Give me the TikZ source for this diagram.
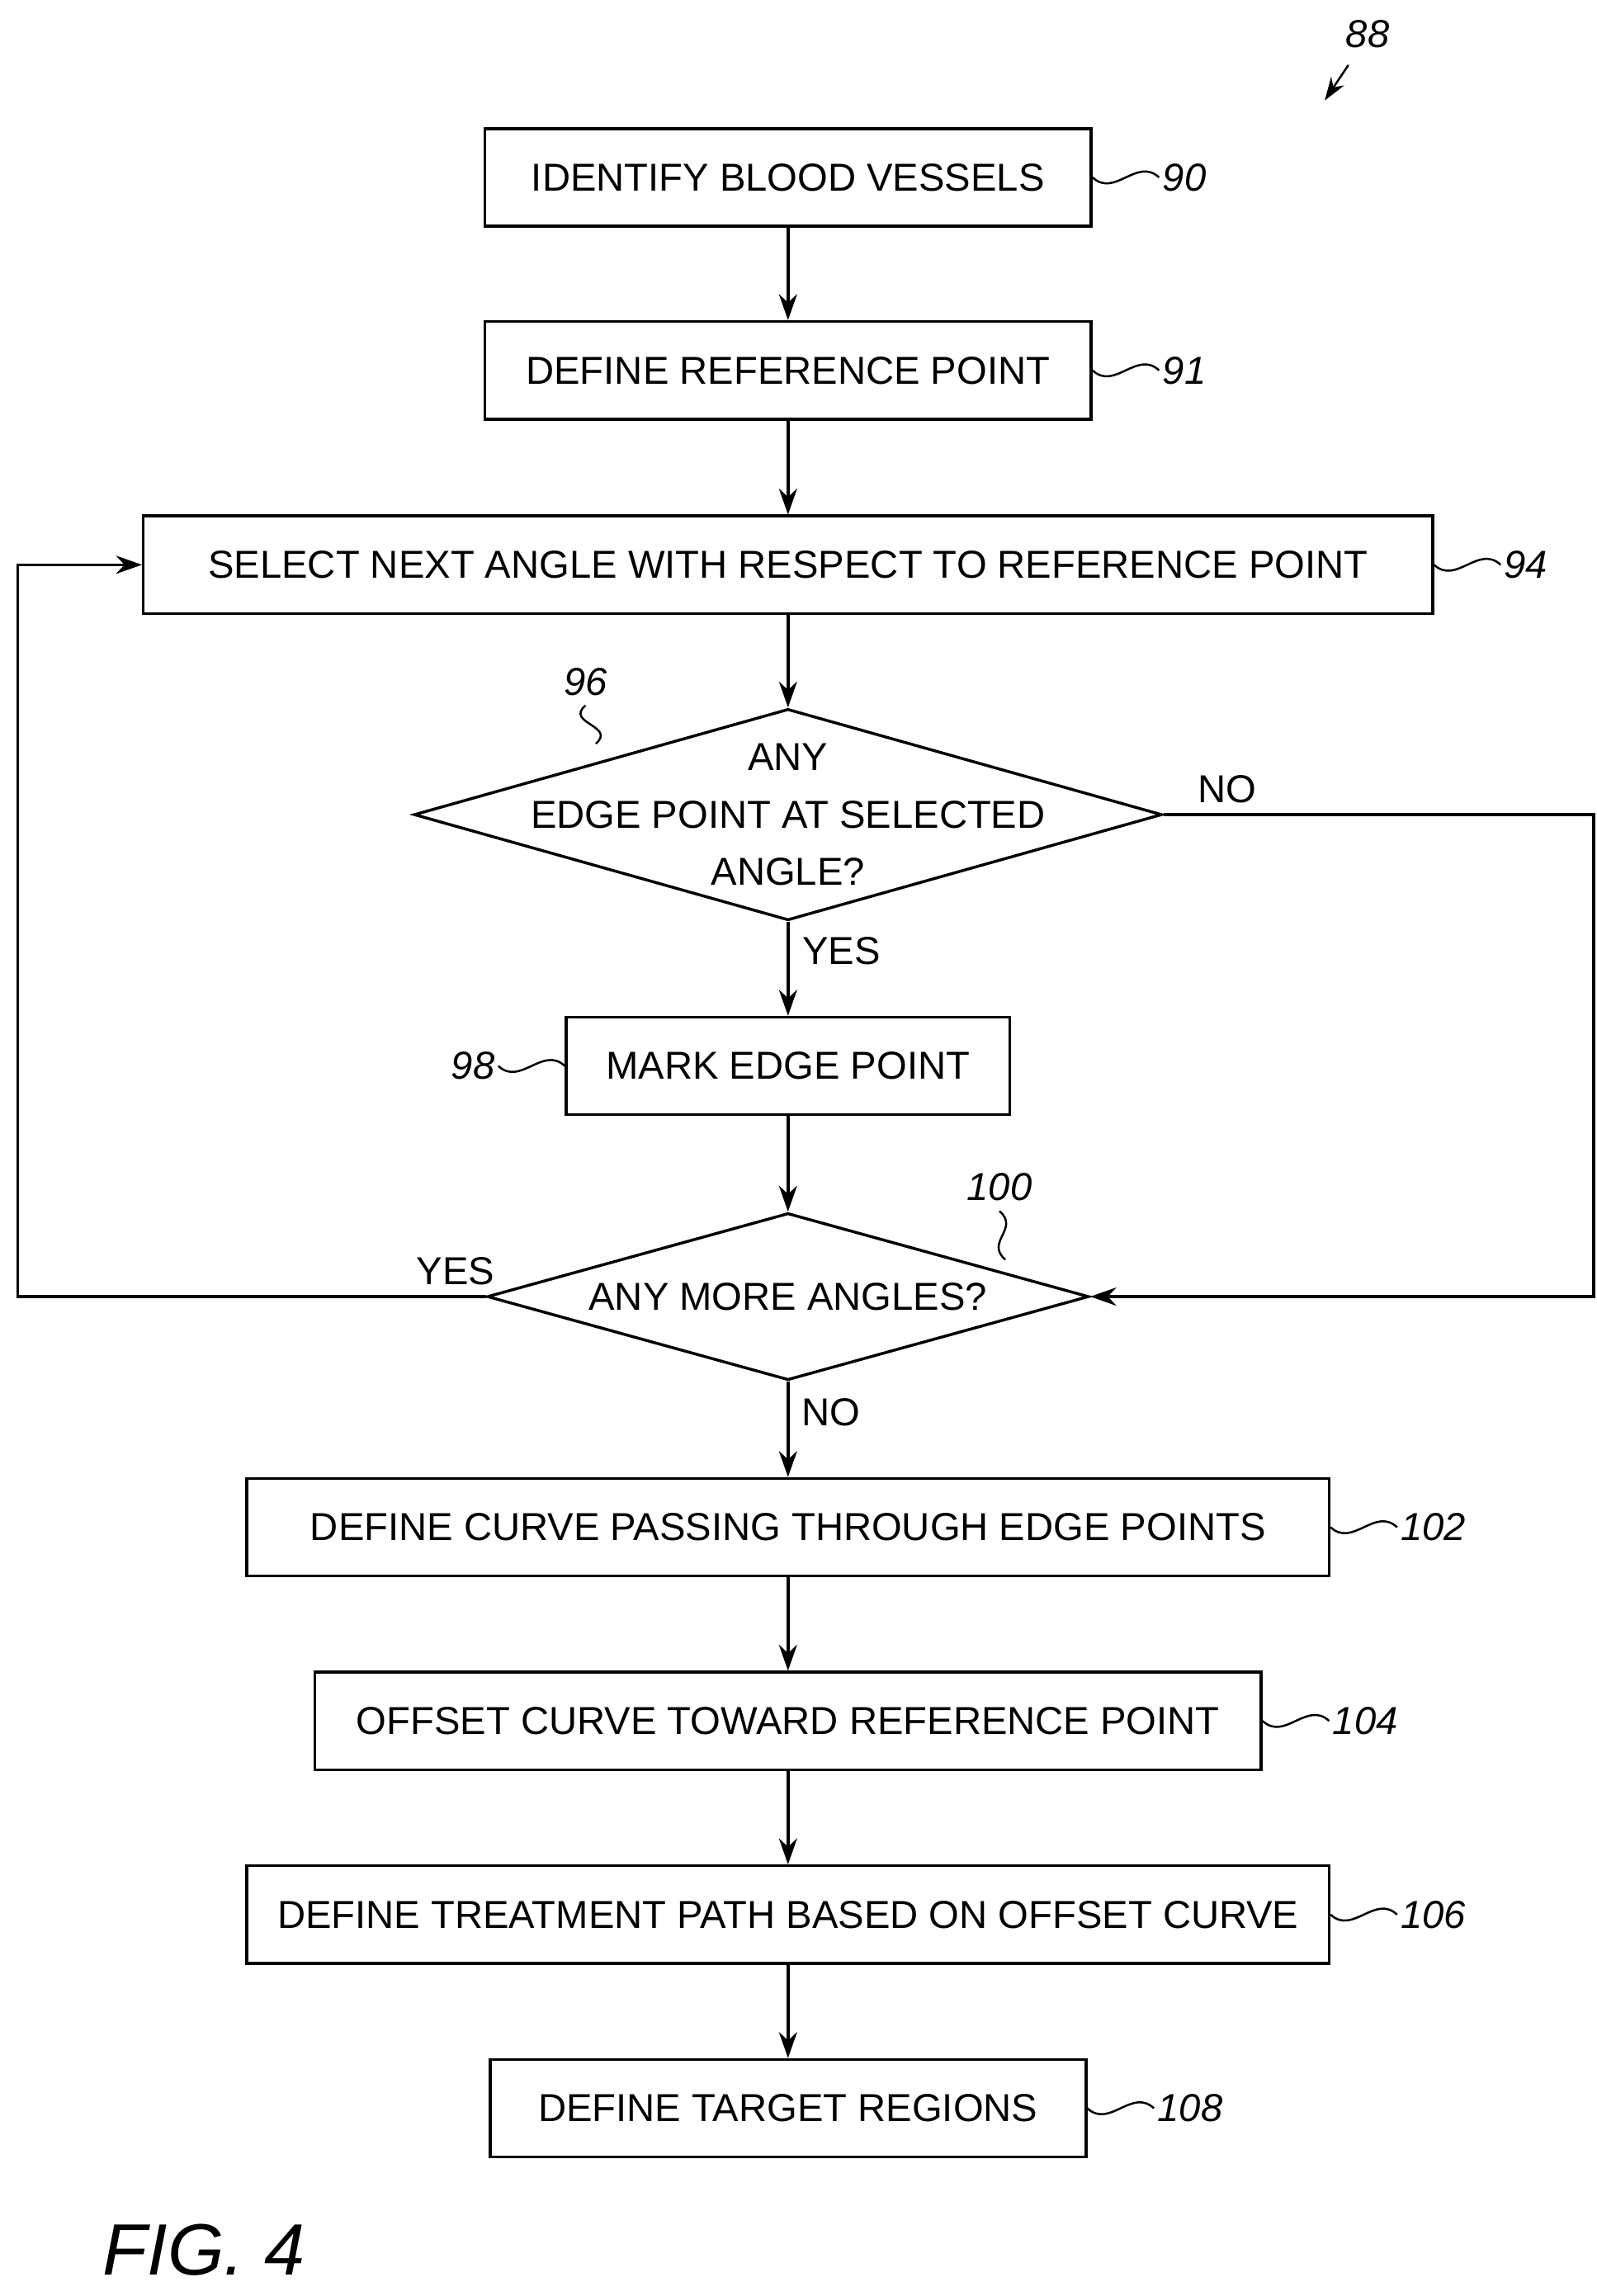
\documentclass[tikz,border=0pt]{standalone}
\usepackage{fontspec}
\setmainfont{Liberation Sans}
\usetikzlibrary{arrows.meta,shapes.geometric}
\begin{document}
\begin{tikzpicture}[x=0.02cm,y=-0.02cm,line width=1.1pt,
 box/.style={draw,rectangle,minimum height=66*0.02cm,inner sep=0pt,font=\fontsize{15}{17}\selectfont},
 dia/.style={draw,diamond,shape aspect=1,inner sep=0pt},
 dtext/.style={align=center,font=\fontsize{15}{17}\selectfont},
 lab/.style={font=\fontsize{15}{17}\selectfont},
 ref/.style={font=\fontsize{15}{17}\selectfont\itshape},
 arr/.style={-{Stealth[length=10pt,width=7pt]}},
 sq/.style={line width=0.8pt}]
\useasboundingbox (0,0) rectangle (1080,1553);
\node[box,minimum width=410*0.02cm] (n90) at (533,120) {IDENTIFY BLOOD VESSELS};
\node[box,minimum width=410*0.02cm] (n91) at (533,250.5) {DEFINE REFERENCE POINT};
\node[box,minimum width=872*0.02cm] (n94) at (533,382) {SELECT NEXT ANGLE WITH RESPECT TO REFERENCE POINT};
\node[dia,minimum width=506*0.02cm,minimum height=143*0.02cm] (n96) at (533,551) {};
\node[dtext] (t96) at (533,551) {ANY\\[5pt]EDGE POINT AT SELECTED\\[5pt]ANGLE?};
\node[box,minimum width=300*0.02cm] (n98) at (533,721) {MARK EDGE POINT};
\node[dia,minimum width=407*0.02cm,minimum height=113*0.02cm] (n100) at (533,877) {};
\node[dtext] (t100) at (533,877) {ANY MORE ANGLES?};
\node[box,minimum width=732*0.02cm] (n102) at (533,1033) {DEFINE CURVE PASSING THROUGH EDGE POINTS};
\node[box,minimum width=640*0.02cm] (n104) at (533,1164) {OFFSET CURVE TOWARD REFERENCE POINT};
\node[box,minimum width=732*0.02cm] (n106) at (533,1295) {DEFINE TREATMENT PATH BASED ON OFFSET CURVE};
\node[box,minimum width=403*0.02cm] (n108) at (533,1426) {DEFINE TARGET REGIONS};
\draw[arr] (n90) -- (n91);
\draw[arr] (n91) -- (n94);
\draw[arr] (n94) -- (n96);
\draw[arr] (n96) -- (n98);
\draw[arr] (n98) -- (n100);
\draw[arr] (n100) -- (n102);
\draw[arr] (n102) -- (n104);
\draw[arr] (n104) -- (n106);
\draw[arr] (n106) -- (n108);
\draw[arr] (n100.west) -- (12,877) |- (n94.west);
\draw[arr] (n96.east) -- (1078,551) |- (n100.east);
\node[lab] (lno1) at (830,534) {NO};
\node[lab] (lyes1) at (569,643) {YES};
\node[lab] (lyes2) at (308,860) {YES};
\node[lab] (lno2) at (562,955) {NO};
\foreach \n/\t in {n90/90,n91/91,n94/94,n102/102,n104/104,n106/106,n108/108}{
 \draw[sq] (\n.east) .. controls +(15,14) and +(-15,-14) .. ++(45,0) node[ref,right,inner sep=1pt]{\t};}
\draw[sq] (n98.west) .. controls +(-15,-14) and +(15,14) .. ++(-45,0) node[ref,left,inner sep=1pt]{98};
\node[ref] (r96) at (396,461) {96};
\draw[sq] (r96.south) .. controls +(-14,12) and +(14,-12) .. (403,503);
\node[ref] (r100) at (676,803) {100};
\draw[sq] (r100.south) .. controls +(14,12) and +(-14,-12) .. (680,852);
\node[ref] (r88) at (925,23) {88};
\coordinate (a88s) at (912,44);
\coordinate (a88e) at (896,68);
\draw[sq,-{Stealth[length=9pt,width=6pt]}] (a88s) -- (a88e);
\node[font=\fontsize{28}{32}\selectfont\itshape] (fig) at (138,1522) {FIG. 4};
\end{tikzpicture}
\end{document}
